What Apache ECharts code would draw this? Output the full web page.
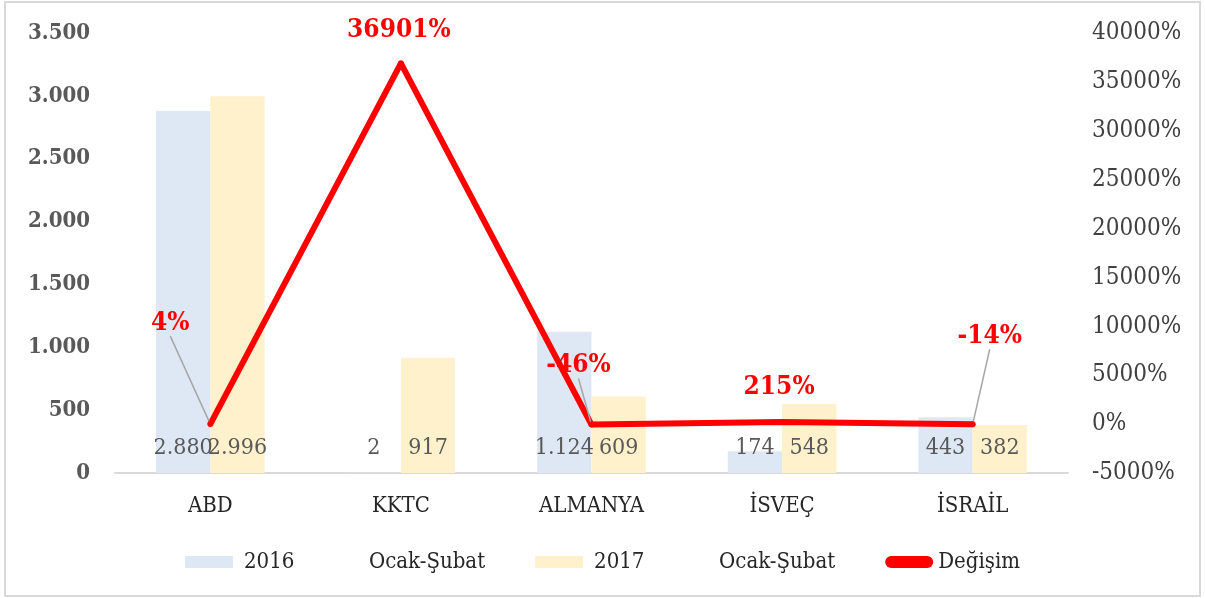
<!DOCTYPE html>
<html>
<head>
<meta charset="utf-8">
<script src="https://cdn.jsdelivr.net/npm/echarts@6/dist/echarts.min.js"></script>
<style>
html,body{margin:0;padding:0;background:#fff;}
#c{position:absolute;left:0;top:0;width:1205px;height:598px;}
#frame{position:absolute;left:4px;top:1px;width:1193px;height:592px;border:2px solid #d9d9d9;pointer-events:none;}
</style>
</head>
<body>
<div id="c"></div>
<div id="frame"></div>
<script>
const categories = ['ABD', 'KKTC', 'ALMANYA', 'İSVEÇ', 'İSRAİL'];
const values2016 = [2880, 2, 1124, 174, 443];
const values2017 = [2996, 917, 609, 548, 382];
const changePct = [4, 36901, -46, 215, -14];
const seriesNames = ['2016 Ocak-Şubat', '2017 Ocak-Şubat', 'Değişim'];

const FONT = '"DejaVu Serif Condensed", "DejaVu Serif", serif';
const labelShift = [[-40, -80], [-2, -12], [-13, -38], [-3, -14], [17, -67]];
const showGuide = [true, false, true, false, true];

function trNum(v) {
  return String(v).replace(/\B(?=(\d{3})+(?!\d))/g, '.');
}

const chart = echarts.init(document.getElementById('c'));
const barLabel = {
  show: true,
  position: 'insideBottom',
  distance: 13,
  color: '#595959',
  fontFamily: FONT,
  fontSize: 23,
  formatter: p => trNum(p.value)
};

chart.setOption({
  animation: false,
  backgroundColor: '#fff',
  grid: {left: 115, right: 137, top: 33, bottom: 125},
  legend: {
    bottom: 20,
    left: 'center',
    itemWidth: 48,
    itemHeight: 12,
    itemGap: 50,
    textStyle: {
      fontFamily: FONT, fontSize: 22, color: '#262626',
      rich: {
        a: {fontFamily: FONT, fontSize: 22, color: '#262626', width: 125, padding: [0, 0, 0, 6]},
        b: {fontFamily: FONT, fontSize: 22, color: '#262626'},
        c: {fontFamily: FONT, fontSize: 22, color: '#262626', padding: [0, 0, 0, 0]}
      }
    },
    formatter: name => {
      const parts = name.split(' ');
      return parts.length > 1 ? '{a|' + parts[0] + '}{b|' + parts.slice(1).join(' ') + '}' : '{c|' + name + '}';
    },
    data: [
      {name: seriesNames[0], icon: 'rect'},
      {name: seriesNames[1], icon: 'rect'},
      {name: seriesNames[2], icon: 'path://M6,0 L42,0 A6,6 0 0 1 42,12 L6,12 A6,6 0 0 1 6,0 Z'}
    ]
  },
  xAxis: {
    type: 'category',
    data: categories,
    axisLine: {lineStyle: {color: '#d9d9d9', width: 2}},
    axisTick: {show: false},
    axisLabel: {fontFamily: FONT, fontSize: 22, color: '#262626', margin: 22}
  },
  yAxis: [
    {
      type: 'value', min: 0, max: 3500, interval: 500,
      splitLine: {show: false},
      axisLine: {show: false}, axisTick: {show: false},
      axisLabel: {fontFamily: FONT, fontSize: 22, fontWeight: 'bold', color: '#595959', margin: 25,
        formatter: v => trNum(v)}
    },
    {
      type: 'value', min: -5000, max: 40000, interval: 5000,
      splitLine: {show: false},
      axisLine: {show: false}, axisTick: {show: false},
      axisLabel: {fontFamily: FONT, fontSize: 24, color: '#404040', margin: 24, formatter: v => v + '%'}
    }
  ],
  series: [
    {
      name: seriesNames[0], type: 'bar', data: values2016,
      barGap: '0%', barCategoryGap: '43%',
      itemStyle: {color: '#dde8f4'},
      label: barLabel
    },
    {
      name: seriesNames[1], type: 'bar', data: values2017,
      itemStyle: {color: '#fff1cc'},
      label: barLabel
    },
    {
      name: seriesNames[2], type: 'line', yAxisIndex: 1,
      data: changePct.map((v, i) => ({value: v, labelLine: {show: showGuide[i]}})),
      symbol: 'circle', symbolSize: 6,
      lineStyle: {color: '#ff0000', width: 6},
      itemStyle: {color: '#ff0000'},
      z: 5,
      label: {
        show: true, position: 'top', distance: 5,
        color: '#ff0000', fontWeight: 'bold', fontFamily: FONT, fontSize: 26,
        formatter: p => p.value + '%'
      },
      labelLine: {show: true, lineStyle: {color: '#a6a6a6', width: 1.5}},
      labelLayout: p => ({dx: labelShift[p.dataIndex][0], dy: labelShift[p.dataIndex][1]})
    }
  ]
});
</script>
</body>
</html>
